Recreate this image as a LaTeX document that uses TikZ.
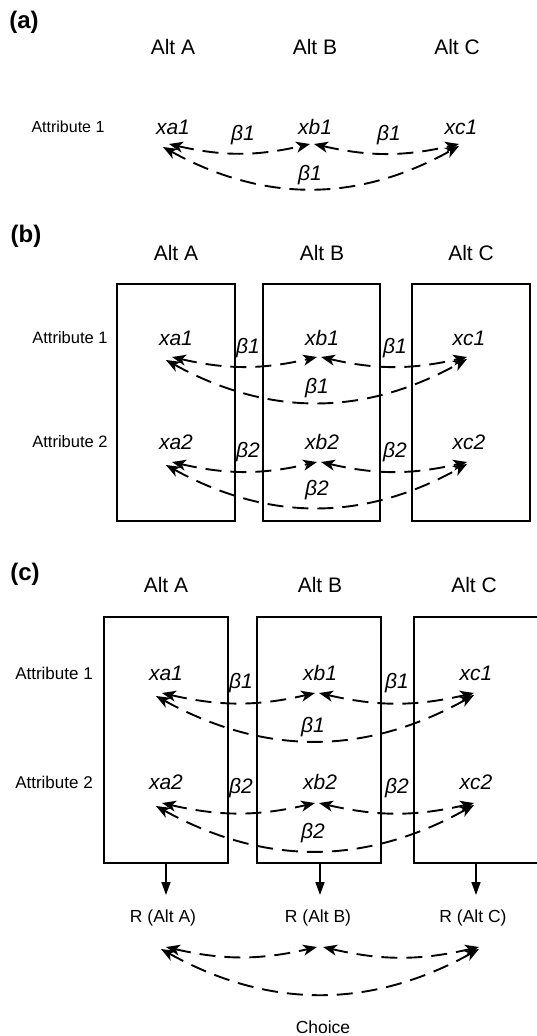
\documentclass[tikz,border=0pt]{standalone}
\usepackage{fontspec}
\setmainfont{Liberation Sans}
\usetikzlibrary{arrows.meta,calc}
\newcommand{\fs}[1]{\fontsize{#1}{#1}\selectfont}
\tikzset{
  every node/.style={inner sep=0pt},
  panel/.style={font=\fs{24}\bfseries},
  alt/.style={font=\fs{21}},
  attr/.style={font=\fs{16}},
  var/.style={font=\fs{21}\itshape},
  coef/.style={font=\fs{21}\itshape},
  rlab/.style={font=\fs{17.5}},
  altbox/.style={draw, line width=1.5pt},
  tipst/.tip={Stealth[length=14pt,width=11pt,inset=4pt]},
  arc/.style={line width=1.9pt, dash pattern=on 16pt off 9pt, tipst-tipst},
  down/.style={line width=1.5pt, -{Triangle[length=13pt,width=9pt]}}
}
% #1 A node, #2 B node, #3 C node, #4 prefix, #5 y offset
\newcommand{\trio}[5]{%
  \coordinate (#4l) at ($(#1)+(-4,-#5)$);
  \coordinate (#4ll) at ($(#1)+(-10,-#5-3)$);
  \coordinate (#4ml) at ($(#2)+(-5,-#5)$);
  \coordinate (#4mr) at ($(#2)+(-1,-#5)$);
  \coordinate (#4r) at ($(#3)+(-2,-#5)$);
  \coordinate (#4rr) at ($(#3)+(-2,-#5-2)$);
  \draw[arc] (#4l) to[bend right=13] (#4ml);
  \draw[arc] (#4mr) to[bend right=13] (#4r);
  \draw[arc] (#4ll) to[bend right=29] (#4rr);
}
\begin{document}
\begin{tikzpicture}[x=1pt,y=1pt]
\useasboundingbox (0,0) rectangle (537,-1036);
\clip (0,0) rectangle (537,-1036);

% ---------------- panel (a)
\node[panel] (pa) at (24,-22) {(a)};
\node[alt] (aAltA) at (173,-47) {Alt A};
\node[alt] (aAltB) at (315,-47) {Alt B};
\node[alt] (aAltC) at (457,-47) {Alt C};
\node[attr] (aAt1) at (68,-127) {Attribute 1};
\node[var] (aA1) at (173,-127) {xa1};
\node[var] (aB1) at (315,-127) {xb1};
\node[var] (aC1) at (461,-127) {xc1};
\node[coef] (aBab) at (243,-135) {β1};
\node[coef] (aBbc) at (389,-135) {β1};
\node[coef] (aBac) at (310,-175) {β1};
\trio{aA1}{aB1}{aC1}{ta}{17}

% ---------------- panel (b)
\node[panel] (pb) at (26,-236) {(b)};
\node[alt] (bAltA) at (176,-253) {Alt A};
\node[alt] (bAltB) at (322,-253) {Alt B};
\node[alt] (bAltC) at (471,-253) {Alt C};
\node[altbox, minimum width=118pt, minimum height=237pt] (bBoxA) at (176,-402.5) {};
\node[altbox, minimum width=117pt, minimum height=237pt] (bBoxB) at (321.5,-402.5) {};
\node[altbox, minimum width=118pt, minimum height=237pt] (bBoxC) at (471,-402.5) {};
\node[attr, font=\fs{16.5}] (bAt1) at (70,-338) {Attribute 1};
\node[attr, font=\fs{16.5}] (bAt2) at (70,-442) {Attribute 2};
\node[var] (bA1) at (176,-338) {xa1};
\node[var] (bB1) at (322,-338) {xb1};
\node[var] (bC1) at (469,-338) {xc1};
\node[var] (bA2) at (176,-442) {xa2};
\node[var] (bB2) at (322,-442) {xb2};
\node[var] (bC2) at (469,-442) {xc2};
\node[coef] (bB1ab) at (248,-348) {β1};
\node[coef] (bB1bc) at (395,-348) {β1};
\node[coef] (bB1ac) at (317,-388) {β1};
\node[coef] (bB2ab) at (248,-452) {β2};
\node[coef] (bB2bc) at (395,-452) {β2};
\node[coef] (bB2ac) at (317,-490) {β2};
\trio{bA1}{bB1}{bC1}{tbo}{19}
\trio{bA2}{bB2}{bC2}{tbt}{20}

% ---------------- panel (c)
\node[panel] (pc) at (25,-574) {(c)};
\node[alt] (cAltA) at (166,-585) {Alt A};
\node[alt] (cAltB) at (320,-585) {Alt B};
\node[alt] (cAltC) at (474,-585) {Alt C};
\node[altbox, minimum width=124pt, minimum height=246pt] (cBoxA) at (166,-740) {};
\node[altbox, minimum width=124pt, minimum height=246pt] (cBoxB) at (319,-740) {};
\node[altbox, minimum width=125pt, minimum height=246pt] (cBoxC) at (476.5,-740) {};
\node[attr, font=\fs{17}] (cAt1) at (54,-673) {Attribute 1};
\node[attr, font=\fs{17}] (cAt2) at (54,-782) {Attribute 2};
\node[var] (cA1) at (166,-673) {xa1};
\node[var] (cB1) at (320,-673) {xb1};
\node[var] (cC1) at (476,-673) {xc1};
\node[var] (cA2) at (166,-782) {xa2};
\node[var] (cB2) at (320,-782) {xb2};
\node[var] (cC2) at (476,-782) {xc2};
\node[coef] (cB1ab) at (241,-683) {β1};
\node[coef] (cB1bc) at (397,-683) {β1};
\node[coef] (cB1ac) at (313,-727) {β1};
\node[coef] (cB2ab) at (241,-788) {β2};
\node[coef] (cB2bc) at (397,-788) {β2};
\node[coef] (cB2ac) at (313,-833) {β2};
\trio{cA1}{cB1}{cC1}{tco}{20}
\trio{cA2}{cB2}{cC2}{tct}{21}

\node[rlab] (RA) at (163,-918) {R (Alt A)};
\node[rlab] (RB) at (318,-918) {R (Alt B)};
\node[rlab] (RC) at (473,-918) {R (Alt C)};
\coordinate (dA) at (166,-895);
\coordinate (dB) at (320,-895);
\coordinate (dC) at (476,-895);
\draw[down] (cBoxA.south -| dA) -- (dA);
\draw[down] (cBoxB.south -| dB) -- (dB);
\draw[down] (cBoxC.south -| dC) -- (dC);

\coordinate (chl) at ($(RA)+(3,-29)$);
\coordinate (chll) at ($(RA)+(-2,-31)$);
\coordinate (chml) at ($(RB)+(-1,-29)$);
\coordinate (chmr) at ($(RB)+(5,-29)$);
\coordinate (chr) at ($(RC)+(6,-29)$);
\coordinate (chrr) at ($(RC)+(6,-31)$);
\draw[arc] (chl) to[bend right=13] (chml);
\draw[arc] (chmr) to[bend right=13] (chr);
\draw[arc] (chll) to[bend right=29] (chrr);
\node[rlab] (choice) at (323,-1027) {Choice};
\end{tikzpicture}
\end{document}
